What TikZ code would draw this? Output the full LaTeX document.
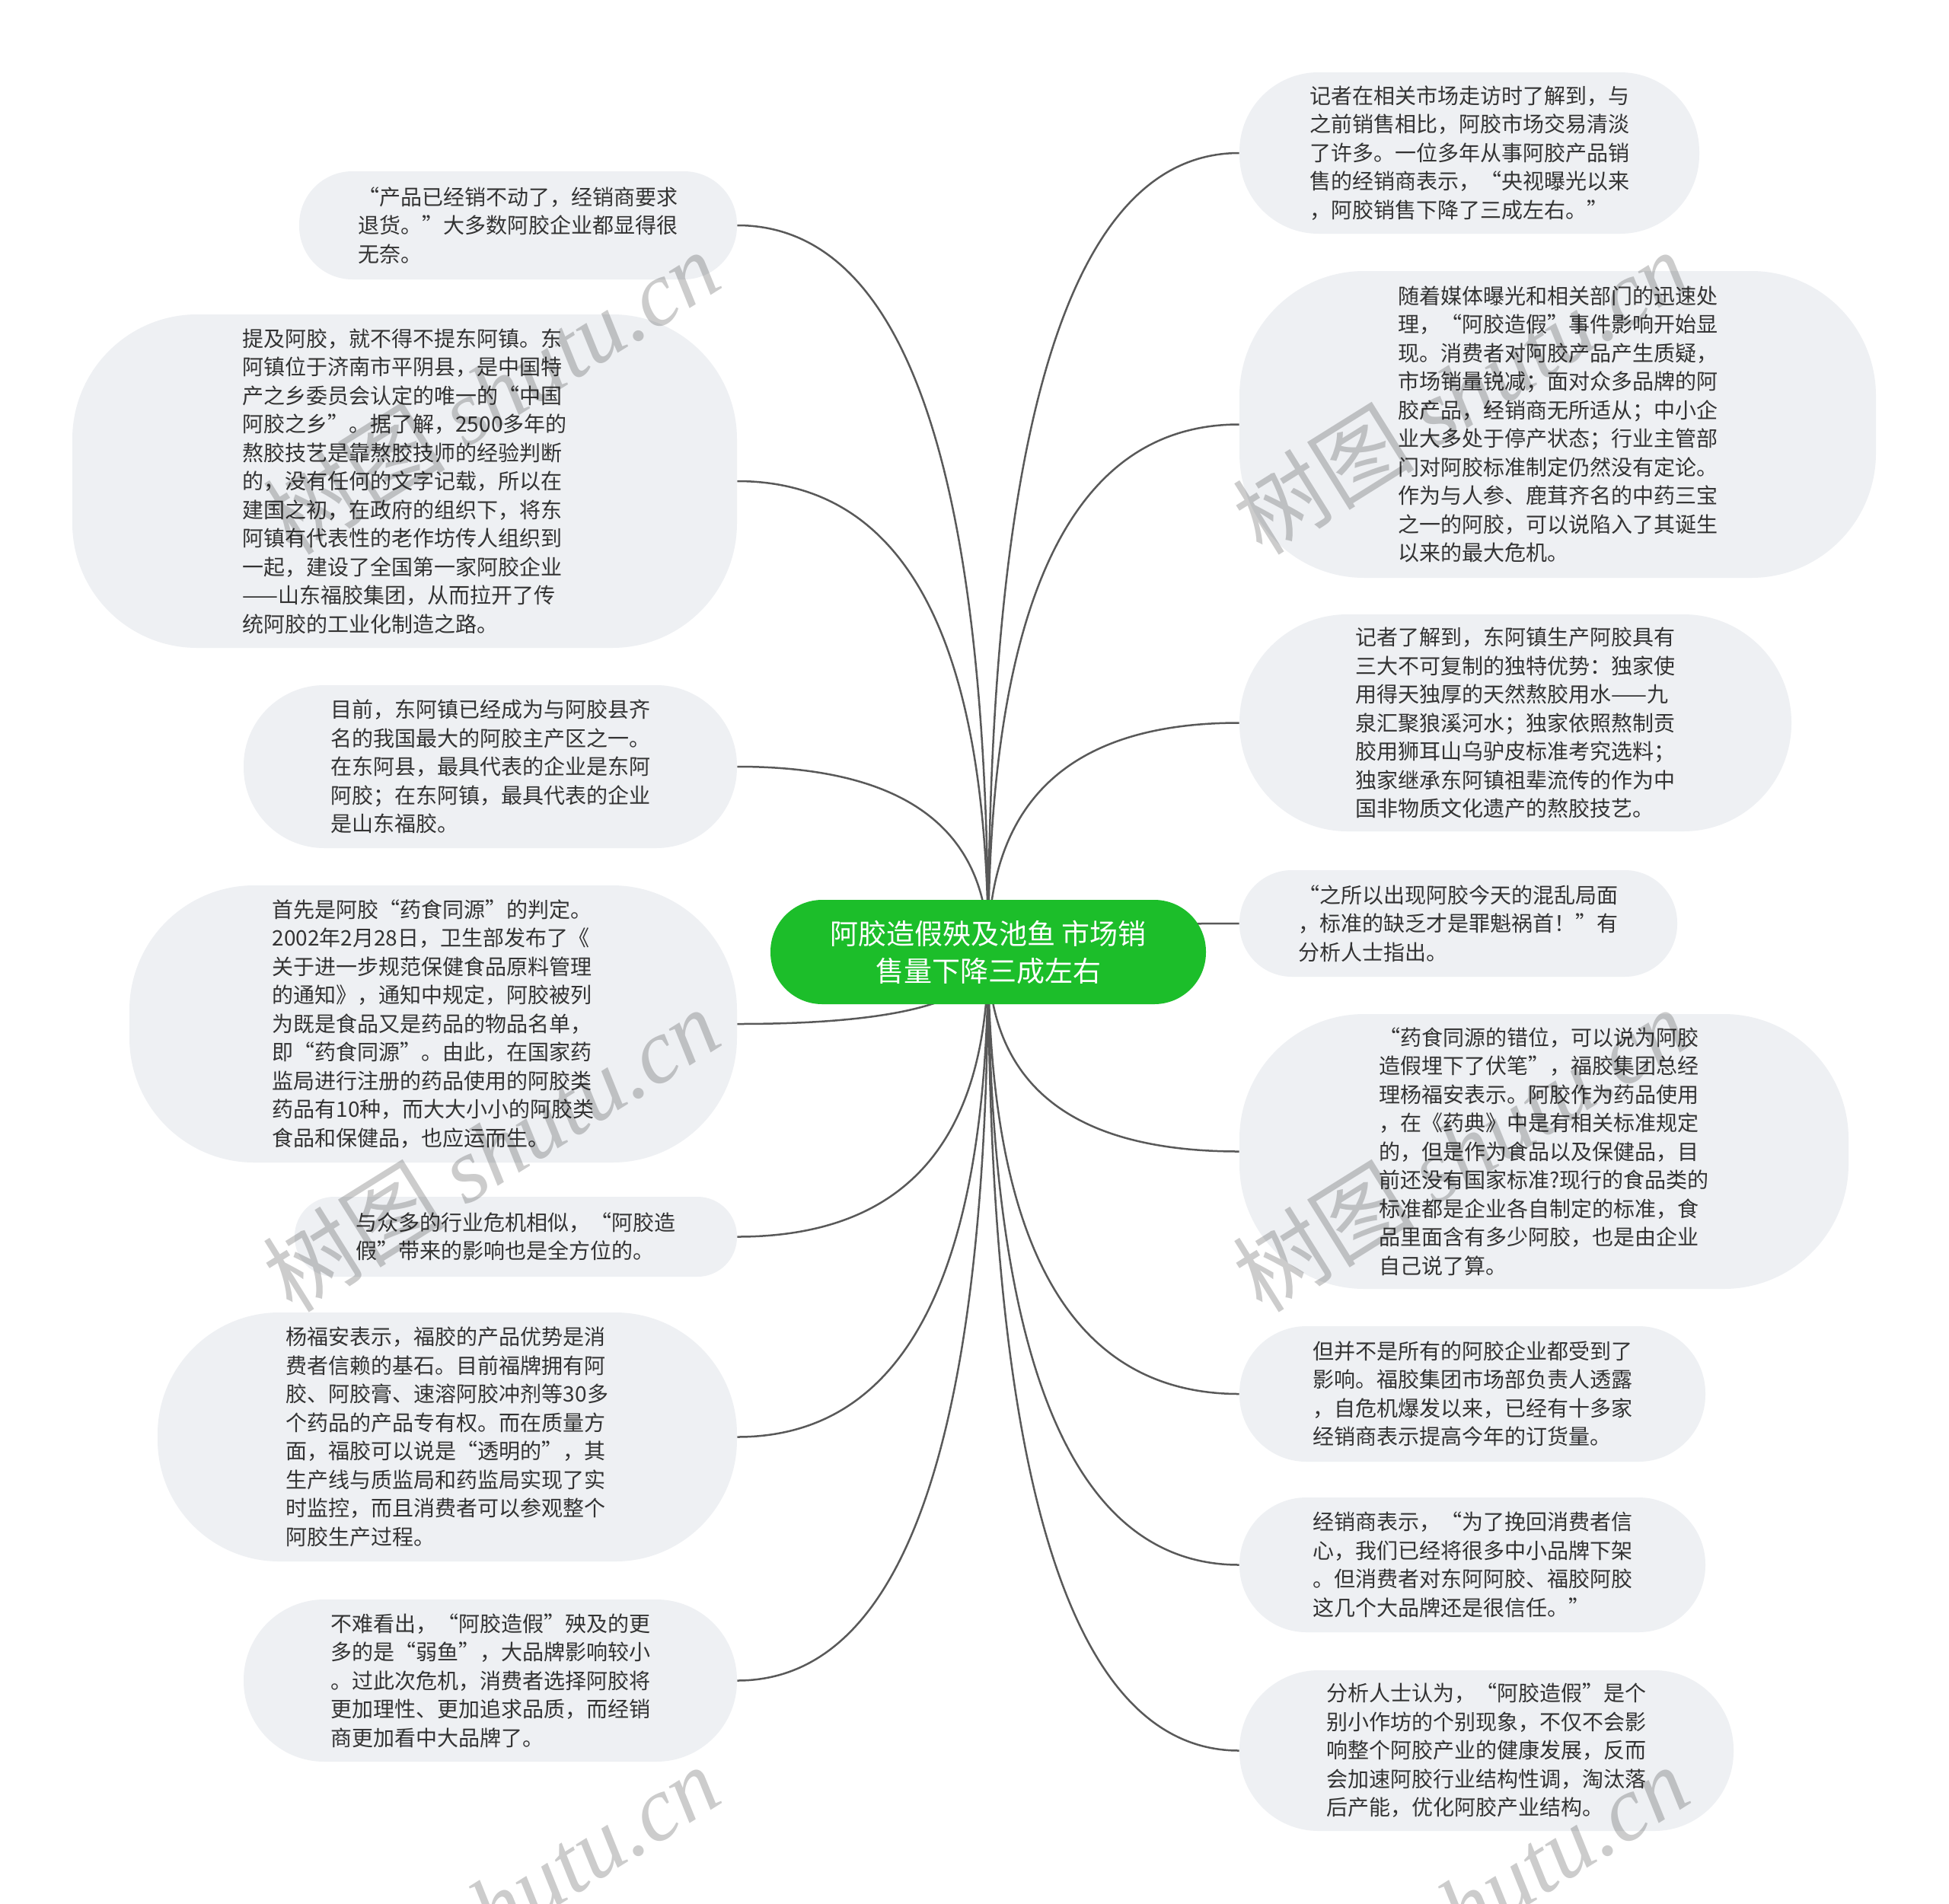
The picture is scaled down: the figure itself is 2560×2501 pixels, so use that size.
\documentclass[tikz,border=0pt]{standalone}
\usepackage{fontspec}
\setmainfont{Noto Sans CJK SC}
\newfontfamily\wmcjk{Noto Sans CJK SC}
\newfontfamily\wmlat{Liberation Serif}
\usetikzlibrary{backgrounds,calc}
\definecolor{nodefill}{HTML}{EEF0F3}
\definecolor{maingreen}{RGB}{28,190,42}
\definecolor{linegray}{HTML}{595959}
\definecolor{txt}{HTML}{333333}
\tikzset{
  leaf/.style={fill=nodefill, draw=none, inner sep=0pt, align=left, text=txt,
    font=\fontsize{14}{18.75}\selectfont},
  root/.style={fill=maingreen, draw=none, inner sep=0pt, align=center, text=white,
    font=\fontsize{18.5}{24.5}\selectfont, minimum width=286pt, minimum height=68.5pt,
    rounded corners=34pt},
  conn/.style={draw=linegray, line width=1.25pt},
  wm/.style={text=black, text opacity=0.2, rotate=32, inner sep=0pt,
    font=\fontsize{60}{60}\selectfont}
}
\begin{document}
\begin{tikzpicture}[x=0.5pt,y=-0.5pt]
\useasboundingbox (0,0) rectangle (2560,2501);

\node[root] (c) at (1298,1250.5) {阿胶造假殃及池鱼 市场销\\售量下降三成左右};

% left
\node[leaf, minimum width=287.5pt, minimum height=71pt, rounded corners=35pt] (l1) at (680.5,296) {“产品已经销不动了，经销商要求\\退货。”大多数阿胶企业都显得很\\无奈。};
\node[leaf, minimum width=436.5pt, minimum height=219pt, rounded corners=82pt] (l2) at (531.5,632) {提及阿胶，就不得不提东阿镇。东\\阿镇位于济南市平阴县，是中国特\\产之乡委员会认定的唯一的“中国\\阿胶之乡”。据了解，2500多年的\\熬胶技艺是靠熬胶技师的经验判断\\的，没有任何的文字记载，所以在\\建国之初，在政府的组织下，将东\\阿镇有代表性的老作坊传人组织到\\一起，建设了全国第一家阿胶企业\\——山东福胶集团，从而拉开了传\\统阿胶的工业化制造之路。};
\node[leaf, minimum width=324pt, minimum height=107pt, rounded corners=53pt] (l3) at (644,1007) {目前，东阿镇已经成为与阿胶县齐\\名的我国最大的阿胶主产区之一。\\在东阿县，最具代表的企业是东阿\\阿胶；在东阿镇，最具代表的企业\\是山东福胶。};
\node[leaf, minimum width=399pt, minimum height=182pt, rounded corners=82pt] (l4) at (569,1345) {首先是阿胶“药食同源”的判定。\\2002年2月28日，卫生部发布了《\\关于进一步规范保健食品原料管理\\的通知》，通知中规定，阿胶被列\\为既是食品又是药品的物品名单，\\即“药食同源”。由此，在国家药\\监局进行注册的药品使用的阿胶类\\药品有10种，而大大小小的阿胶类\\食品和保健品，也应运而生。};
\node[leaf, minimum width=290.5pt, minimum height=52.5pt, rounded corners=26pt] (l5) at (677.5,1624.5) {与众多的行业危机相似，“阿胶造\\假”带来的影响也是全方位的。};
\node[leaf, minimum width=380.5pt, minimum height=163.5pt, rounded corners=80pt] (l6) at (587.5,1887.5) {杨福安表示，福胶的产品优势是消\\费者信赖的基石。目前福牌拥有阿\\胶、阿胶膏、速溶阿胶冲剂等30多\\个药品的产品专有权。而在质量方\\面，福胶可以说是“透明的”，其\\生产线与质监局和药监局实现了实\\时监控，而且消费者可以参观整个\\阿胶生产过程。};
\node[leaf, minimum width=324pt, minimum height=106.5pt, rounded corners=53pt] (l7) at (644,2207.5) {不难看出，“阿胶造假”殃及的更\\多的是“弱鱼”，大品牌影响较小\\。过此次危机，消费者选择阿胶将\\更加理性、更加追求品质，而经销\\商更加看中大品牌了。};

% right
\node[leaf, minimum width=302pt, minimum height=106pt, rounded corners=52pt] (r1) at (1930,201) {记者在相关市场走访时了解到，与\\之前销售相比，阿胶市场交易清淡\\了许多。一位多年从事阿胶产品销\\售的经销商表示，“央视曝光以来\\，阿胶销售下降了三成左右。”};
\node[leaf, minimum width=418pt, minimum height=201.5pt, rounded corners=82pt] (r2) at (2046,557.5) {随着媒体曝光和相关部门的迅速处\\理，“阿胶造假”事件影响开始显\\现。消费者对阿胶产品产生质疑，\\市场销量锐减；面对众多品牌的阿\\胶产品，经销商无所适从；中小企\\业大多处于停产状态；行业主管部\\门对阿胶标准制定仍然没有定论。\\作为与人参、鹿茸齐名的中药三宝\\之一的阿胶，可以说陷入了其诞生\\以来的最大危机。};
\node[leaf, minimum width=362.5pt, minimum height=142.5pt, rounded corners=71pt] (r3) at (1990.5,949.5) {记者了解到，东阿镇生产阿胶具有\\三大不可复制的独特优势：独家使\\用得天独厚的天然熬胶用水——九\\泉汇聚狼溪河水；独家依照熬制贡\\胶用狮耳山乌驴皮标准考究选料；\\独家继承东阿镇祖辈流传的作为中\\国非物质文化遗产的熬胶技艺。};
\node[leaf, minimum width=287.5pt, minimum height=70pt, rounded corners=34.5pt] (r4) at (1915.5,1213) {“之所以出现阿胶今天的混乱局面\\，标准的缺乏才是罪魁祸首！”有\\分析人士指出。};
\node[leaf, minimum width=400pt, minimum height=180.5pt, rounded corners=82pt] (r5) at (2028,1512.5) {“药食同源的错位，可以说为阿胶\\造假埋下了伏笔”，福胶集团总经\\理杨福安表示。阿胶作为药品使用\\，在《药典》中是有相关标准规定\\的，但是作为食品以及保健品，目\\前还没有国家标准?现行的食品类的\\标准都是企业各自制定的标准，食\\品里面含有多少阿胶，也是由企业\\自己说了算。};
\node[leaf, minimum width=306pt, minimum height=89pt, rounded corners=44pt] (r6) at (1934,1831) {但并不是所有的阿胶企业都受到了\\影响。福胶集团市场部负责人透露\\，自危机爆发以来，已经有十多家\\经销商表示提高今年的订货量。};
\node[leaf, minimum width=306pt, minimum height=88.5pt, rounded corners=44pt] (r7) at (1934,2055.5) {经销商表示，“为了挽回消费者信\\心，我们已经将很多中小品牌下架\\。但消费者对东阿阿胶、福胶阿胶\\这几个大品牌还是很信任。”};
\node[leaf, minimum width=324.5pt, minimum height=105.5pt, rounded corners=52pt] (r8) at (1952.5,2299.5) {分析人士认为，“阿胶造假”是个\\别小作坊的个别现象，不仅不会影\\响整个阿胶产业的健康发展，反而\\会加速阿胶行业结构性调，淘汰落\\后产能，优化阿胶产业结构。};

\begin{pgfonlayer}{background}
\fill[white] (0,0) rectangle (2560,2501);
\foreach \n in {l1,l2,l3,l4,l5,l6,l7} {
  \draw[conn] (c.center) .. controls ($(c.center)!0.6667!(c.center |- \n.east)$) and ($(\n.east)!0.6667!(c.center |- \n.east)$) .. (\n.east);
}
\foreach \n in {r1,r2,r3,r4,r5,r6,r7,r8} {
  \draw[conn] (c.center) .. controls ($(c.center)!0.6667!(c.center |- \n.west)$) and ($(\n.west)!0.6667!(c.center |- \n.west)$) .. (\n.west);
}
\end{pgfonlayer}

% watermarks
\node[wm] (wm1) at (645,515) {{\wmcjk 树图} {\wmlat\itshape shutu.cn}};
\node[wm] (wm2) at (645,1510) {{\wmcjk 树图} {\wmlat\itshape shutu.cn}};
\node[wm] (wm3) at (645,2505) {{\wmcjk 树图} {\wmlat\itshape shutu.cn}};
\node[wm] (wm4) at (1918,515) {{\wmcjk 树图} {\wmlat\itshape shutu.cn}};
\node[wm] (wm5) at (1918,1510) {{\wmcjk 树图} {\wmlat\itshape shutu.cn}};
\node[wm] (wm6) at (1918,2505) {{\wmcjk 树图} {\wmlat\itshape shutu.cn}};
\end{tikzpicture}
\end{document}
